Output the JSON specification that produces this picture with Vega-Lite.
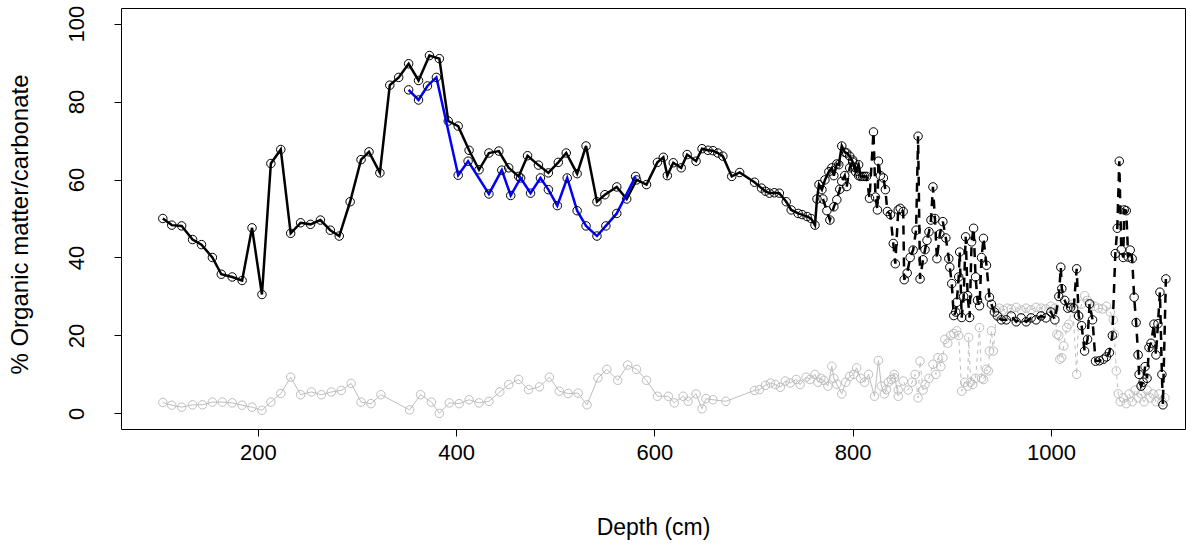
{
"$schema": "https://vega.github.io/schema/vega-lite/v6.json",
"width": 1064, "height": 421,
"autosize": "none",
"padding": {"left": 121, "top": 8, "right": 1, "bottom": 118},
"background": "white",
"config": {"view": {"stroke": "black", "strokeWidth": 1}, "font": "Liberation Sans",
 "axis": {"grid": false, "domain": false, "tickColor": "black", "tickSize": 7, "labelColor": "black", "titleColor": "black", "labelFont": "Liberation Sans", "titleFont": "Liberation Sans", "labelFontSize": 22, "titleFontSize": 23, "titleFontWeight": "normal"}},
"datasets": {
"om1": [
{"d":104,"v":50.0},{"d":113,"v":48.3},{"d":123,"v":48.1},{"d":134,"v":44.6},{"d":143,"v":43.3},{"d":154,"v":40.0},{"d":163,"v":35.7},{"d":174,"v":35.0},{"d":184,"v":34.1},{"d":194,"v":47.6},{"d":204,"v":30.5},{"d":213,"v":64.1},{"d":223,"v":67.7},{"d":233,"v":46.2},{"d":243,"v":48.9},{"d":253,"v":48.5},{"d":263,"v":49.6},{"d":273,"v":47.0},{"d":282,"v":45.5},{"d":293,"v":54.3},{"d":304,"v":65.1},{"d":312,"v":67.1},{"d":323,"v":61.7},{"d":333,"v":84.2},{"d":342,"v":86.2},{"d":352,"v":89.7},{"d":362,"v":85.4},{"d":373,"v":91.8},{"d":383,"v":91.0},{"d":392,"v":75.0},{"d":402,"v":73.7},{"d":413,"v":67.5},{"d":423,"v":62.5},{"d":433,"v":66.8},{"d":443,"v":67.3},{"d":453,"v":63.0},{"d":463,"v":60.8},{"d":472,"v":66.1},{"d":483,"v":63.7},{"d":493,"v":61.7},{"d":503,"v":64.4},{"d":511,"v":66.8},{"d":522,"v":61.5},{"d":531,"v":68.6},{"d":542,"v":54.3},{"d":550,"v":56.1},{"d":562,"v":58.1},{"d":572,"v":55.0},{"d":582,"v":59.9},{"d":592,"v":58.7},{"d":603,"v":64.4},{"d":609,"v":65.7},{"d":613,"v":61.0},{"d":619,"v":64.3},{"d":627,"v":63.0},{"d":633,"v":66.4},{"d":642,"v":64.7},{"d":648,"v":67.9},{"d":654,"v":67.5},{"d":659,"v":67.4},{"d":664,"v":66.8},{"d":669,"v":66.0},{"d":678,"v":60.8},{"d":686,"v":61.8},{"d":701,"v":59.3},{"d":708,"v":57.8},{"d":712,"v":57.0},{"d":716,"v":56.5},{"d":721,"v":56.6},{"d":726,"v":56.5},{"d":733,"v":54.3},{"d":738,"v":52.2},{"d":745,"v":51.3},{"d":749,"v":51.0},{"d":754,"v":50.5},{"d":758,"v":50.0},{"d":762,"v":48.3},{"d":764,"v":55.0},{"d":766,"v":58.7},{"d":769,"v":57.4},{"d":772,"v":59.9},{"d":776,"v":62.0},{"d":779,"v":63.0},{"d":781,"v":61.0},{"d":784,"v":64.0},{"d":786,"v":63.8},{"d":789,"v":68.6},{"d":792,"v":67.0},{"d":794,"v":66.8},{"d":797,"v":66.0},{"d":800,"v":64.5},{"d":803,"v":62.0},{"d":806,"v":63.8},{"d":808,"v":60.8},{"d":812,"v":60.8}
],
"om2": [
{"d":770,"v":55},{"d":774,"v":52},{"d":777,"v":49.6},{"d":781,"v":53},{"d":784,"v":54.8},{"d":787,"v":57.5},{"d":789,"v":59.5},{"d":792,"v":61},{"d":794,"v":58.2},{"d":797,"v":63},{"d":800,"v":65},{"d":803,"v":63},{"d":806,"v":61},{"d":810,"v":60.8},{"d":814,"v":60.8},{"d":817,"v":55.2},{"d":821,"v":72.2},{"d":823,"v":55.5},{"d":825,"v":52.2},{"d":826,"v":64.7},{"d":828,"v":61},{"d":831,"v":60.4},{"d":833,"v":57.4},{"d":835,"v":51.8},{"d":838,"v":51},{"d":841,"v":43.6},{"d":843,"v":38.4},{"d":846,"v":52.2},{"d":848,"v":52.6},{"d":851,"v":51.8},{"d":852,"v":34.3},{"d":855,"v":36},{"d":858,"v":40},{"d":861,"v":41.9},{"d":864,"v":47},{"d":866,"v":71.1},{"d":868,"v":34.5},{"d":871,"v":39.4},{"d":873,"v":42},{"d":875,"v":44.4},{"d":877,"v":46.6},{"d":879,"v":49.6},{"d":881,"v":58.1},{"d":883,"v":50},{"d":885,"v":39.7},{"d":888,"v":46},{"d":891,"v":49.2},{"d":894,"v":45},{"d":897,"v":39.7},{"d":898,"v":37.5},{"d":900,"v":33.3},{"d":902,"v":25.1},{"d":904,"v":26},{"d":905,"v":28.5},{"d":907,"v":35},{"d":908,"v":41.4},{"d":910,"v":24.6},{"d":912,"v":30},{"d":914,"v":45.3},{"d":916,"v":30.2},{"d":918,"v":24.6},{"d":920,"v":44},{"d":922,"v":47.5},{"d":924,"v":35},{"d":926,"v":29},{"d":928,"v":27.6},{"d":930,"v":40},{"d":932,"v":44.9},{"d":935,"v":38},{"d":938,"v":29.8},{"d":940,"v":28},{"d":943,"v":26},{"d":946,"v":25},{"d":950,"v":24},{"d":955,"v":24},{"d":960,"v":25},{"d":965,"v":23.5},{"d":970,"v":24.5},{"d":975,"v":23.5},{"d":980,"v":24.5},{"d":985,"v":24},{"d":990,"v":25},{"d":995,"v":24.5},{"d":1000,"v":26},{"d":1004,"v":24},{"d":1008,"v":30},{"d":1010,"v":37.5},{"d":1011,"v":32},{"d":1014,"v":29},{"d":1017,"v":27},{"d":1020,"v":27.2},{"d":1023,"v":27},{"d":1026,"v":37.1},{"d":1028,"v":25},{"d":1031,"v":22.5},{"d":1034,"v":16},{"d":1037,"v":19},{"d":1039,"v":28.1},{"d":1042,"v":24},{"d":1045,"v":13.4},{"d":1049,"v":13.5},{"d":1053,"v":13.9},{"d":1056,"v":14.5},{"d":1059,"v":15.6},{"d":1062,"v":20},{"d":1065,"v":41},{"d":1067,"v":47.5},{"d":1069,"v":64.7},{"d":1071,"v":42},{"d":1073,"v":40},{"d":1074,"v":52.2},{"d":1076,"v":52},{"d":1078,"v":40.1},{"d":1080,"v":41.9},{"d":1082,"v":39.7},{"d":1084,"v":29.8},{"d":1086,"v":23.3},{"d":1088,"v":15},{"d":1089,"v":10},{"d":1091,"v":7},{"d":1093,"v":8},{"d":1095,"v":12},{"d":1097,"v":9},{"d":1099,"v":16.9},{"d":1101,"v":18},{"d":1104,"v":22.9},{"d":1106,"v":15},{"d":1108,"v":23},{"d":1110,"v":31.1},{"d":1112,"v":10},{"d":1113,"v":2.2},{"d":1116,"v":34.5}
],
"bl": [
{"d":352,"v":83.0},{"d":362,"v":80.4},{"d":371,"v":84.0},{"d":380,"v":86.2},{"d":402,"v":61.1},{"d":412,"v":64.7},{"d":433,"v":56.3},{"d":446,"v":62.4},{"d":455,"v":55.9},{"d":465,"v":60.4},{"d":475,"v":56.5},{"d":485,"v":60.4},{"d":493,"v":57.4},{"d":502,"v":53.3},{"d":512,"v":60.4},{"d":522,"v":52.0},{"d":531,"v":48.1},{"d":542,"v":45.5},{"d":551,"v":48.1},{"d":562,"v":51.3},{"d":581,"v":60.8}
],
"ca1": [
{"d":104,"v":2.8},{"d":113,"v":2.1},{"d":123,"v":1.6},{"d":134,"v":2.2},{"d":144,"v":2.2},{"d":154,"v":2.9},{"d":164,"v":2.9},{"d":174,"v":2.7},{"d":184,"v":2.1},{"d":194,"v":1.6},{"d":204,"v":0.8},{"d":213,"v":2.9},{"d":223,"v":5.1},{"d":233,"v":9.3},{"d":243,"v":4.8},{"d":254,"v":5.5},{"d":264,"v":4.8},{"d":274,"v":5.5},{"d":284,"v":5.9},{"d":294,"v":7.7},{"d":304,"v":2.9},{"d":314,"v":2.5},{"d":324,"v":4.8},{"d":353,"v":0.9},{"d":364,"v":4.8},{"d":375,"v":2.9},{"d":383,"v":0.0},{"d":393,"v":2.7},{"d":403,"v":2.5},{"d":413,"v":3.5},{"d":423,"v":2.7},{"d":433,"v":3.1},{"d":444,"v":5.5},{"d":453,"v":7.4},{"d":463,"v":8.7},{"d":473,"v":6.1},{"d":484,"v":6.8},{"d":494,"v":9.3},{"d":504,"v":5.7},{"d":513,"v":5.1},{"d":523,"v":5.2},{"d":532,"v":2.2},{"d":543,"v":9.1},{"d":552,"v":11.3},{"d":563,"v":8.5},{"d":573,"v":12.4},{"d":582,"v":11.3},{"d":592,"v":8.5},{"d":603,"v":4.4},{"d":614,"v":4.4},{"d":620,"v":2.7},{"d":629,"v":4.4},{"d":634,"v":3.1},{"d":642,"v":5.0},{"d":648,"v":1.2},{"d":652,"v":3.8},{"d":659,"v":3.5},{"d":672,"v":3.1},{"d":701,"v":5.9},{"d":706,"v":6.1},{"d":712,"v":7.2},{"d":717,"v":7.8},{"d":722,"v":7.4},{"d":727,"v":6.7},{"d":732,"v":8.3},{"d":737,"v":7.8},{"d":743,"v":8.7},{"d":747,"v":7.4},{"d":753,"v":9.3},{"d":757,"v":8.7},{"d":762,"v":10.0},{"d":765,"v":8.0},{"d":768,"v":9.0},{"d":771,"v":8.5},{"d":775,"v":7.0},{"d":779,"v":12.1},{"d":781,"v":9.0},{"d":784,"v":7.5},{"d":789,"v":5.0},{"d":793,"v":8.0},{"d":797,"v":9.5},{"d":801,"v":10.0},{"d":804,"v":11.7},{"d":808,"v":9.0},{"d":812,"v":8.0},{"d":816,"v":10.0},{"d":822,"v":4.4},{"d":826,"v":13.6},{"d":829,"v":7.0},{"d":832,"v":5.0},{"d":834,"v":6.1},{"d":836,"v":8.0},{"d":839,"v":8.7},{"d":842,"v":10.0},{"d":846,"v":4.4}
],
"ca2": [
{"d":842,"v":9.1},{"d":846,"v":6},{"d":851,"v":8.3},{"d":856,"v":6},{"d":860,"v":8},{"d":863,"v":10},{"d":866,"v":4},{"d":868,"v":13.4},{"d":871,"v":6},{"d":873,"v":7.4},{"d":877,"v":9},{"d":881,"v":12.6},{"d":884,"v":10},{"d":886,"v":14.3},{"d":889,"v":12},{"d":891,"v":14.3},{"d":893,"v":19},{"d":896,"v":18},{"d":899,"v":20},{"d":902,"v":20.5},{"d":905,"v":21.2},{"d":907,"v":20},{"d":910,"v":5.7},{"d":913,"v":8},{"d":916,"v":7},{"d":917,"v":19.5},{"d":919,"v":8},{"d":921,"v":7.4},{"d":924,"v":9},{"d":928,"v":22},{"d":930,"v":9},{"d":932,"v":8.7},{"d":935,"v":11.3},{"d":937,"v":10.9},{"d":938,"v":16},{"d":940,"v":21.2},{"d":942,"v":16},{"d":945,"v":26.4},{"d":948,"v":27},{"d":952,"v":26.5},{"d":956,"v":27},{"d":960,"v":26.8},{"d":965,"v":27.2},{"d":970,"v":26.5},{"d":975,"v":27},{"d":980,"v":26.6},{"d":985,"v":27.2},{"d":990,"v":27},{"d":995,"v":26.8},{"d":1000,"v":27.5},{"d":1004,"v":27},{"d":1006,"v":20.3},{"d":1008,"v":20},{"d":1009,"v":13.9},{"d":1011,"v":14.3},{"d":1013,"v":17.3},{"d":1016,"v":22},{"d":1018,"v":22.9},{"d":1022,"v":28},{"d":1026,"v":10},{"d":1028,"v":25},{"d":1031,"v":28},{"d":1034,"v":30.2},{"d":1037,"v":29},{"d":1040,"v":28},{"d":1044,"v":27.5},{"d":1048,"v":27},{"d":1052,"v":26.8},{"d":1056,"v":27.5},{"d":1060,"v":26},{"d":1063,"v":24},{"d":1064,"v":20.3},{"d":1066,"v":10.9},{"d":1068,"v":5},{"d":1070,"v":3},{"d":1073,"v":4},{"d":1076,"v":2.5},{"d":1079,"v":5},{"d":1082,"v":3},{"d":1085,"v":6},{"d":1088,"v":4},{"d":1091,"v":5},{"d":1094,"v":3},{"d":1097,"v":6},{"d":1100,"v":4},{"d":1103,"v":5},{"d":1106,"v":3},{"d":1109,"v":5},{"d":1112,"v":3},{"d":1115,"v":4}
]
},
"encoding": {
 "x": {"field": "d", "type": "quantitative", "scale": {"domain": [61.8, 1135.3], "nice": false, "zero": false},
   "axis": {"values": [200, 400, 600, 800, 1000], "format": "d", "title": "Depth (cm)", "labelPadding": 6, "labelBaseline": "top", "titlePadding": 53}},
 "y": {"field": "v", "type": "quantitative", "scale": {"domain": [-4, 104], "nice": false, "zero": false},
   "axis": {"values": [0, 20, 40, 60, 80, 100], "format": "d", "title": "% Organic matter/carbonate", "labelAngle": -90, "labelAlign": "center", "labelBaseline": "alphabetic", "labelPadding": 31, "titleFontSize": 24, "titleX": -94, "titleY": 216, "titleAngle": -90, "titleAlign": "center", "titleBaseline": "alphabetic"}}
},
"layer": [
 {"data": {"name": "ca1"}, "mark": {"type": "line", "color": "#BEBEBE", "strokeWidth": 1}},
 {"data": {"name": "ca1"}, "mark": {"type": "point", "shape": "circle", "filled": false, "stroke": "#BEBEBE", "size": 72, "strokeWidth": 1, "opacity": 1}},
 {"data": {"name": "ca2"}, "mark": {"type": "line", "color": "#BEBEBE", "strokeWidth": 1, "strokeDash": [4, 4]}},
 {"data": {"name": "ca2"}, "mark": {"type": "point", "shape": "circle", "filled": false, "stroke": "#BEBEBE", "size": 72, "strokeWidth": 1, "opacity": 1}},
 {"data": {"name": "om1"}, "mark": {"type": "line", "color": "black", "strokeWidth": 2.5}},
 {"data": {"name": "om1"}, "mark": {"type": "point", "shape": "circle", "filled": false, "stroke": "black", "size": 72, "strokeWidth": 1, "opacity": 1}},
 {"data": {"name": "om2"}, "mark": {"type": "line", "color": "black", "strokeWidth": 2.5, "strokeDash": [9, 7]}},
 {"data": {"name": "om2"}, "mark": {"type": "point", "shape": "circle", "filled": false, "stroke": "black", "size": 72, "strokeWidth": 1, "opacity": 1}},
 {"data": {"name": "bl"}, "mark": {"type": "line", "color": "#0000FF", "strokeWidth": 2.5}},
 {"data": {"name": "bl"}, "mark": {"type": "point", "shape": "circle", "filled": false, "stroke": "black", "size": 72, "strokeWidth": 1, "opacity": 1}}
]
}
